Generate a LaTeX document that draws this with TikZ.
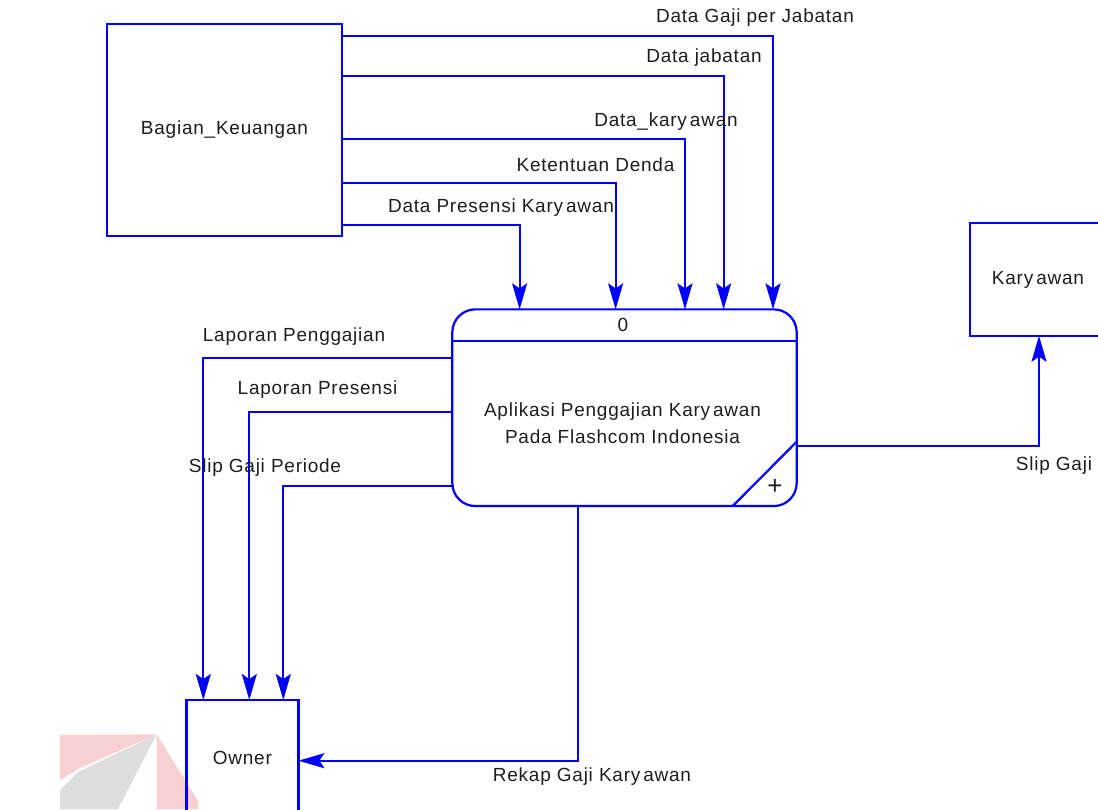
\documentclass[tikz,border=0pt]{standalone}
\usepackage{fontspec}
\setmainfont{Liberation Sans}[LetterSpace=4]
\newfontfamily\plainfont{Liberation Sans}
\usetikzlibrary{arrows.meta}
\definecolor{flowblue}{RGB}{0,0,255}
\definecolor{txt}{RGB}{30,30,30}
\definecolor{wmpink}{RGB}{248,208,210}
\definecolor{wmgray}{RGB}{222,222,222}
\tikzset{
  ent/.style={draw=flowblue, line width=2.2pt, rectangle, inner sep=0pt, outer sep=0pt,
              text=txt, font=\fontsize{19}{22}\selectfont},
  proc/.style={draw=flowblue, line width=2.2pt, rectangle, rounded corners=23pt,
               inner sep=0pt, outer sep=0pt},
  flow/.style={draw=flowblue, line width=2.2pt,
               -{Stealth[length=26pt, width=15pt, inset=5pt]}},
  lbl/.style={text=txt, inner sep=0pt, font=\fontsize{19}{22}\selectfont},
}
\begin{document}
\begin{tikzpicture}[x=1pt, y=-1pt]
\clip (0,0) rectangle (1098,809);
\fill[white] (0,0) rectangle (1098,809);

% faint logo in the lower left corner
\fill[wmpink] (60,735) -- (156.7,734.3) -- (80,768) -- (60,780) -- cycle;
\fill[wmgray] (156.7,734.3) -- (78,772) -- (60,790) -- (60,809) -- (118,809) -- cycle;
\fill[wmpink] (156.7,734.3) -- (198.3,801.7) -- (198.3,809) -- (156.7,809) -- cycle;

% external entities
\node[ent, minimum width=235.7pt, minimum height=212pt] (bk) at (224.5,130) {Bagian\_Keuangan};
\node[ent, minimum width=136pt, minimum height=112.4pt] (kar) at (1038,279.5) {Kary\kern3pt awan};
\node[ent, minimum width=112pt, minimum height=115.4pt] (own) at (242.4,757.7) {Owner};

% process
\node[proc, minimum width=344.4pt, minimum height=196.7pt] (proc) at (624.5,407.7) {};
\draw[flowblue, line width=2.2pt] (proc.west |- 0,340.7) -- (proc.east |- 0,340.7);
\draw[flowblue, line width=2.2pt] (732.7,0 |- proc.south) -- (proc.east |- 0,441.7);
\node[lbl] (pnum) at (623,325) {0};
\node[lbl, align=center, font=\fontsize{19}{27}\selectfont] (ptext) at (622.5,423.5)
  {Aplikasi Penggajian Kary\kern3pt awan\\Pada Flashcom Indonesia};
\node[lbl, font=\plainfont\fontsize{26}{26}\selectfont\color{txt}] (plus) at (775,487) {+};

% flows from Bagian_Keuangan
\draw[flow] (bk.east |- 0,35.7)  -| (773,0 |- proc.north);
\draw[flow] (bk.east |- 0,75.7)  -| (723.6,0 |- proc.north);
\draw[flow] (bk.east |- 0,139)   -| (685,0 |- proc.north);
\draw[flow] (bk.east |- 0,183)   -| (615.6,0 |- proc.north);
\draw[flow] (bk.east |- 0,225)   -| (519.6,0 |- proc.north);

% flows to Owner
\draw[flow] (proc.west |- 0,358.3) -| (203.3,0 |- own.north);
\draw[flow] (proc.west |- 0,412)   -| (249.3,0 |- own.north);
\draw[flow] (453.5,485.7)          -| (283.3,0 |- own.north);
\draw[flow] (578,0 |- proc.south)  |- (own.east |- 0,760.7);

% flow to Karyawan
\draw[flow] (proc.east |- 0,446) -| (1039,0 |- kar.south);

% flow labels
\node[lbl] (l1) at (755,18)    {Data Gaji per Jabatan};
\node[lbl] (l2) at (704,58)    {Data jabatan};
\node[lbl] (l3) at (666,122)   {Data\_kary\kern3pt awan};
\node[lbl] (l4) at (595.5,165) {Ketentuan Denda};
\node[lbl] (l5) at (501,208)   {Data Presensi Kary\kern3pt awan};
\node[lbl] (l6) at (294,337)   {Laporan Penggajian};
\node[lbl] (l7) at (317.5,390) {Laporan Presensi};
\node[lbl] (l8) at (265,468)   {Slip Gaji Periode};
\node[lbl] (l9) at (1054,466)  {Slip Gaji};
\node[lbl] (l10) at (592,777)  {Rekap Gaji Kary\kern3pt awan};
\end{tikzpicture}
\end{document}
